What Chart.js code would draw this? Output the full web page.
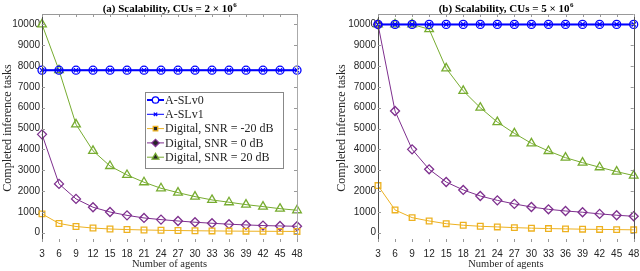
<!DOCTYPE html>
<html>
<head>
<meta charset="utf-8">
<script src="https://cdn.jsdelivr.net/npm/chart.js@4.4.0/dist/chart.umd.min.js"></script>
<style>
html,body{margin:0;padding:0;background:#fff;}
#wrap{position:relative;width:640px;height:271px;}
.box{position:absolute;top:0;width:320px;height:271px;}
</style>
</head>
<body>
<div id="wrap">
<div class="box" style="left:0"><canvas id="chartA"></canvas></div>
<div class="box" style="left:320px"><canvas id="chartB"></canvas></div>
</div>
<script>
// x values and tick labels
const agents = [3,6,9,12,15,18,21,24,27,30,33,36,39,42,45,48];
const yTicks = [0,1000,2000,3000,4000,5000,6000,7000,8000,9000,10000];
const seriesNames = ["A-SLv0","A-SLv1","Digital, SNR = -20 dB","Digital, SNR = 0 dB","Digital, SNR = 20 dB"];

// (a) CUs = 2 x 10^6
const aslv0A = [7800,7800,7800,7800,7800,7800,7800,7800,7800,7800,7800,7800,7800,7800,7800,7800];
const aslv1A = [7800,7800,7800,7800,7800,7800,7800,7800,7800,7800,7800,7800,7800,7800,7800,7800];
const snrm20A = [900,440,295,220,175,148,128,112,100,90,82,75,70,65,61,57];
const snr0A = [4720,2340,1620,1220,990,830,705,625,560,500,450,405,370,340,320,305];
const snr20A = [10000,7800,5200,3930,3200,2770,2420,2130,1920,1730,1570,1460,1345,1250,1150,1075];

// (b) CUs = 5 x 10^6
const aslv0B = [10000,10000,10000,10000,10000,10000,10000,10000,10000,10000,10000,10000,10000,10000,10000,10000];
const aslv1B = [10000,10000,10000,10000,10000,10000,10000,10000,10000,10000,10000,10000,10000,10000,10000,10000];
const snrm20B = [2260,1090,720,560,430,355,305,275,240,215,195,180,165,155,145,135];
const snr0B = [10000,5840,4000,3040,2430,2050,1760,1550,1380,1230,1120,1040,980,900,835,785];
const snr20B = [10000,10000,10000,9770,7890,6810,6000,5310,4770,4290,3920,3600,3360,3140,2930,2740];

const colors = ["#0000ff","#0000ff","#edb120","#7e2f8e","#77ac30"];
const styles = ["circle","crossRot","rect","rectRot","triangle"];
const radii = [4,3,4,4.5,5];
const widths = [2,1,1,1,1];

function makeSets(vals){
  return vals.map((v,i)=>({
    label: seriesNames[i],
    data: agents.map((a,j)=>({x:a,y:v[j]})),
    borderColor: colors[i],
    backgroundColor: "rgba(0,0,0,0)",
    borderWidth: widths[i],
    pointStyle: styles[i],
    pointRadius: radii[i],
    pointBorderWidth: 1.3,
    pointBorderColor: colors[i],
    pointBackgroundColor: "rgba(0,0,0,0)",
    tension: 0,
    clip: false
  }));
}

const framePlugin = {
  id: "frame",
  afterDatasetsDraw(chart, args, opts){
    const ctx = chart.ctx, ca = chart.chartArea;
    const xs = chart.scales.x, ys = chart.scales.y;
    ctx.save();
    ctx.lineWidth = 1;
    ctx.strokeStyle = opts.leftColor;
    ctx.beginPath();
    ctx.moveTo(Math.round(ca.left)+0.5, ca.top);
    ctx.lineTo(Math.round(ca.left)+0.5, ca.bottom);
    ctx.stroke();
    ctx.strokeStyle = opts.otherColor;
    ctx.beginPath();
    ctx.moveTo(ca.left, Math.round(ca.top)+0.5);
    ctx.lineTo(ca.right, Math.round(ca.top)+0.5);
    ctx.stroke();
    ctx.strokeStyle = opts.rightColor;
    ctx.beginPath();
    ctx.moveTo(Math.round(ca.right)+0.5, ca.top);
    ctx.lineTo(Math.round(ca.right)+0.5, ca.bottom);
    ctx.stroke();
    ctx.strokeStyle = "#999";
    ctx.beginPath();
    yTicks.forEach(v=>{
      const y = Math.round(ys.getPixelForValue(v))+0.5;
      ctx.moveTo(ca.left, y); ctx.lineTo(ca.left+3, y);
      ctx.moveTo(ca.right, y); ctx.lineTo(ca.right-3, y);
    });
    agents.forEach(v=>{
      const x = Math.round(xs.getPixelForValue(v))+0.5;
      ctx.moveTo(x, ca.top); ctx.lineTo(x, ca.top+3);
      ctx.moveTo(x, ca.bottom); ctx.lineTo(x, ca.bottom-3);
    });
    ctx.stroke();

    // title centred over the plot box, with superscript exponent
    const cx = (ca.left + ca.right) / 2;
    ctx.fillStyle = "#000";
    ctx.textBaseline = "alphabetic";
    ctx.font = "bold 11px 'Liberation Serif'";
    const w1 = ctx.measureText(opts.title).width;
    ctx.font = "bold 7px 'Liberation Serif'";
    const w2 = ctx.measureText(opts.sup).width;
    const x0 = cx - (w1 + w2) / 2;
    ctx.font = "bold 11px 'Liberation Serif'";
    ctx.fillText(opts.title, x0, 11.5);
    ctx.font = "bold 7px 'Liberation Serif'";
    ctx.fillText(opts.sup, x0 + w1 + 0.5, 7);
    ctx.restore();
  }
};

const legendPlugin = {
  id: "boxLegend",
  afterDraw(chart, args, opts){
    if(!opts.show) return;
    const ctx = chart.ctx, ca = chart.chartArea;
    const bx = ca.left + 103, by = ca.top + 78, bw = 138, bh = 76;
    ctx.save();
    ctx.fillStyle = "#fff";
    ctx.fillRect(bx, by, bw, bh);
    ctx.strokeStyle = "#888";
    ctx.lineWidth = 1;
    ctx.strokeRect(bx+0.5, by+0.5, bw, bh);
    ctx.font = "12px 'Liberation Serif'";
    ctx.textBaseline = "middle";
    chart.data.datasets.forEach((ds,i)=>{
      const y = by + 8 + i*14.3;
      ctx.strokeStyle = ds.borderColor;
      ctx.lineWidth = ds.borderWidth;
      ctx.beginPath();
      ctx.moveTo(bx+2, y); ctx.lineTo(bx+19, y);
      ctx.stroke();
      ctx.lineWidth = 1.3;
      Chart.helpers.drawPoint(ctx, {pointStyle: ds.pointStyle, radius: ds.pointRadius*0.8, borderWidth: 1.3, rotation: 0}, bx+10.5, y);
      ctx.fillStyle = "#262626";
      ctx.fillText(ds.label, bx+20, y+0.5);
    });
    ctx.restore();
  }
};

function makeChart(id, vals, title, padLeft, padRight, yWidth, showLegend, rightColor){
  return new Chart(document.getElementById(id), {
    type: "line",
    data: { datasets: makeSets(vals) },
    options: {
      responsive: true,
      maintainAspectRatio: false,
      animation: false,
      layout: { padding: { left: padLeft, right: padRight, top: 14, bottom: 0 } },
      plugins: {
        legend: { display: false },
        tooltip: { enabled: false },
        title: { display: false },
        frame: { leftColor: "#4d4d4d", rightColor: rightColor, otherColor: "#999", title: title, sup: "6" },
        boxLegend: { show: showLegend }
      },
      scales: {
        x: {
          type: "linear",
          min: 3, max: 48,
          afterBuildTicks: s => { s.ticks = agents.map(v=>({value:v})); },
          afterFit: s => { s.height = 29; s.paddingLeft = 0; s.paddingRight = 0; },
          grid: { display: false, drawTicks: false },
          border: { display: false },
          ticks: { color: "#262626", font: { family: "'Liberation Sans'", size: 10 }, padding: 6, maxRotation: 0, autoSkip: false, callback: v => String(v) },
          title: { display: true, text: "Number of agents", color: "#262626", font: { family: "'Liberation Serif'", size: 10.5 }, padding: { top: 0, bottom: 0 } }
        },
        y: {
          min: -450, max: 10500,
          afterBuildTicks: s => { s.ticks = yTicks.map(v=>({value:v})); },
          afterFit: s => { s.width = yWidth; },
          grid: { display: false, drawTicks: false },
          border: { display: false },
          ticks: { color: "#262626", font: { family: "'Liberation Sans'", size: 10 }, padding: 2, callback: v => String(v) },
          title: { display: true, text: "Completed inference tasks", color: "#262626", font: { family: "'Liberation Serif'", size: 12 }, padding: { top: 0, bottom: 0 } }
        }
      }
    },
    plugins: [framePlugin, legendPlugin]
  });
}

makeChart("chartA", [aslv0A, aslv1A, snrm20A, snr0A, snr20A], "(a) Scalability, CUs = 2 \u00d7 10", 1, 23, 41, true, "#aaa");
makeChart("chartB", [aslv0B, aslv1B, snrm20B, snr0B, snr20B], "(b) Scalability, CUs = 5 \u00d7 10", 15, 6, 43, false, "#555");
</script>
</body>
</html>
